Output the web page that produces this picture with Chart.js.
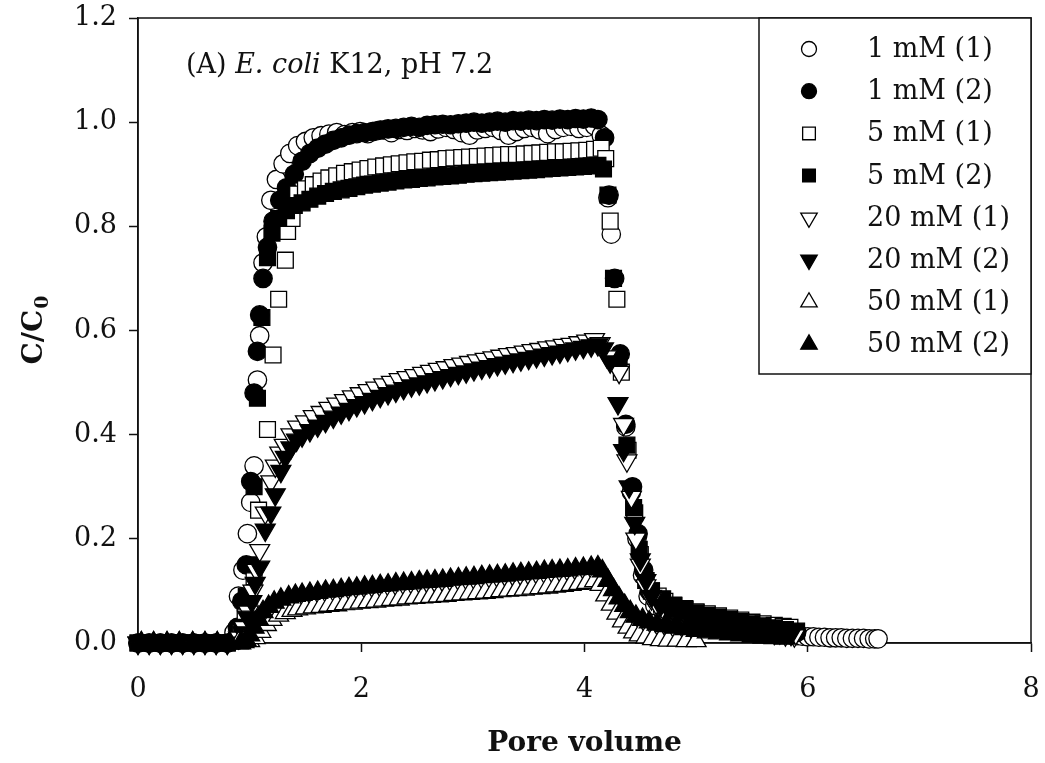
<!DOCTYPE html>
<html>
<head>
<meta charset="utf-8">
<title>Breakthrough curves</title>
<script src="https://cdn.jsdelivr.net/npm/chart.js@4.4.0/dist/chart.umd.min.js"></script>
<style>
  html, body { margin: 0; padding: 0; background: #fff; }
  #wrap { width: 1045px; height: 763px; }
</style>
</head>
<body>
<div id="wrap"><canvas id="btcChart" width="1045" height="763"></canvas></div>
<script>
// shared sampling grids (pore volumes)
const pvStartA = [0.00, 0.10, 0.20, 0.30, 0.40, 0.50, 0.60, 0.70, 0.80];
const pvStartC = [0.03, 0.14, 0.26, 0.37, 0.49, 0.60, 0.71, 0.82];
const pvPlateauA = [1.43, 1.50, 1.57, 1.64, 1.71, 1.78, 1.85, 1.92, 1.99, 2.06,
  2.13, 2.20, 2.27, 2.34, 2.41, 2.48, 2.55, 2.62, 2.69, 2.76,
  2.83, 2.90, 2.97, 3.04, 3.11, 3.18, 3.25, 3.32, 3.39, 3.46,
  3.53, 3.60, 3.67, 3.74, 3.81, 3.88, 3.95, 4.02, 4.09];
const pvPlateauB = [1.47, 1.54, 1.61, 1.68, 1.75, 1.82, 1.89, 1.96, 2.03, 2.10,
  2.17, 2.24, 2.31, 2.38, 2.45, 2.52, 2.59, 2.66, 2.73, 2.80,
  2.87, 2.94, 3.01, 3.08, 3.15, 3.22, 3.29, 3.36, 3.43, 3.50,
  3.57, 3.64, 3.71, 3.78, 3.85, 3.92, 3.99, 4.06, 4.12];

// 1 mM (1)
const pv1a = [...pvStartA,
  0.86, 0.90, 0.94, 0.98, 1.01, 1.04, 1.07, 1.09, 1.12, 1.15, 1.19, 1.24, 1.30, 1.36,
  ...pvPlateauA,
  4.15, 4.21, 4.24, 4.37, 4.42, 4.47, 4.52, 4.57, 4.63, 4.70, 4.78, 4.86, 4.95, 5.04, 5.13, 5.22,
  5.31, 5.40, 5.49, 5.58, 5.67, 5.76, 5.84,
  5.90, 5.95, 6.00, 6.05, 6.10, 6.15, 6.20, 6.25, 6.30, 6.35, 6.40, 6.45, 6.50, 6.55, 6.60, 6.63];
const c1a = [0, 0, 0, 0, 0, 0, 0, 0, 0,
  0.02, 0.09, 0.14, 0.21, 0.27, 0.34, 0.505, 0.59, 0.73, 0.78, 0.85, 0.89, 0.92, 0.94,
  0.955, 0.963, 0.97, 0.974, 0.977, 0.98, 0.976, 0.98, 0.982, 0.978,
  0.983, 0.985, 0.98, 0.986, 0.984, 0.988, 0.985, 0.982, 0.987, 0.99,
  0.986, 0.98, 0.975, 0.985, 0.988, 0.99, 0.984, 0.975, 0.982, 0.988,
  0.99, 0.985, 0.978, 0.986, 0.99, 0.992, 0.988, 0.99, 0.993,
  0.975, 0.855, 0.785, 0.415, 0.29, 0.2, 0.13, 0.09, 0.072, 0.062, 0.055, 0.05, 0.046, 0.042, 0.039, 0.036,
  0.033, 0.03, 0.027, 0.024, 0.021, 0.018, 0.016,
  0.014, 0.013, 0.012, 0.012, 0.011, 0.011, 0.01, 0.01, 0.01, 0.009, 0.009, 0.009, 0.009, 0.008, 0.008, 0.008];

// 1 mM (2)
const pv1b = [...pvStartA,
  0.89, 0.93, 0.97, 1.01, 1.04, 1.07, 1.09, 1.12, 1.16, 1.21, 1.27, 1.33, 1.40,
  ...pvPlateauB,
  4.18, 4.22, 4.27, 4.32, 4.37, 4.43, 4.48, 4.53, 4.58, 4.64, 4.70, 4.78, 4.86, 4.94, 5.02, 5.10,
  5.18, 5.26, 5.34, 5.42, 5.50, 5.58, 5.66, 5.74, 5.82, 5.90];
const c1b = [0, 0, 0, 0, 0, 0, 0, 0, 0,
  0.03, 0.08, 0.15, 0.31, 0.48, 0.56, 0.63, 0.70, 0.76, 0.81, 0.85, 0.874, 0.9,
  0.925, 0.94, 0.95, 0.958, 0.965, 0.97, 0.975, 0.978, 0.98, 0.982,
  0.985, 0.987, 0.988, 0.99, 0.992, 0.99, 0.994, 0.995, 0.996, 0.995,
  0.997, 0.998, 1.0, 0.998, 1.0, 1.002, 1.0, 1.003, 1.002, 1.004,
  1.003, 1.005, 1.004, 1.006, 1.005, 1.007, 1.006, 1.008, 1.005,
  0.97, 0.86, 0.70, 0.555, 0.42, 0.30, 0.21, 0.14, 0.10, 0.082, 0.07, 0.06, 0.053, 0.048, 0.044, 0.041,
  0.038, 0.035, 0.033, 0.031, 0.029, 0.027, 0.025, 0.023, 0.021, 0.02];

// 5 mM (1)
const pv5a = [...pvStartA,
  0.92, 0.96, 1.00, 1.04, 1.08, 1.16, 1.21, 1.26, 1.32, 1.34, 1.38,
  ...pvPlateauA,
  4.15, 4.19, 4.23, 4.29, 4.33, 4.39, 4.45, 4.50, 4.55, 4.60, 4.66, 4.72, 4.80, 4.90, 5.00, 5.10,
  5.20, 5.30, 5.40, 5.50, 5.60, 5.70, 5.78, 5.84];
const c5a = [0, 0, 0, 0, 0, 0, 0, 0, 0,
  0.02, 0.05, 0.09, 0.127, 0.255, 0.41, 0.553, 0.66, 0.735, 0.79, 0.815,
  0.862, 0.872, 0.88, 0.887, 0.893, 0.897, 0.902, 0.905, 0.908, 0.911,
  0.914, 0.916, 0.918, 0.92, 0.922, 0.924, 0.925, 0.927, 0.928, 0.93,
  0.931, 0.932, 0.933, 0.934, 0.935, 0.936, 0.937, 0.938, 0.938, 0.939,
  0.94, 0.941, 0.942, 0.943, 0.943, 0.944, 0.945, 0.946, 0.948,
  0.95, 0.93, 0.81, 0.66, 0.52, 0.37, 0.25, 0.17, 0.12, 0.10, 0.09, 0.08, 0.073, 0.066, 0.06, 0.056,
  0.052, 0.048, 0.044, 0.04, 0.037, 0.034, 0.032, 0.03];

// 5 mM (2)
const pv5b = [...pvStartA,
  0.93, 0.97, 1.01, 1.04, 1.07, 1.11, 1.16, 1.20, 1.26, 1.33, 1.40,
  ...pvPlateauB,
  4.17, 4.21, 4.26, 4.31, 4.38, 4.44, 4.49, 4.55, 4.60, 4.70, 4.80, 4.90, 5.00, 5.10, 5.20, 5.30,
  5.40, 5.50, 5.60, 5.70, 5.80, 5.90];
const c5b = [0, 0, 0, 0, 0, 0, 0, 0, 0,
  0.03, 0.09, 0.15, 0.30, 0.47, 0.625, 0.74, 0.787, 0.815, 0.83, 0.84,
  0.845, 0.852, 0.858, 0.863, 0.867, 0.87, 0.873, 0.876, 0.879, 0.881,
  0.883, 0.885, 0.887, 0.889, 0.89, 0.892, 0.893, 0.895, 0.896, 0.897,
  0.898, 0.9, 0.901, 0.902, 0.903, 0.904, 0.905, 0.906, 0.907, 0.908,
  0.909, 0.91, 0.911, 0.912, 0.913, 0.914, 0.915, 0.916, 0.917,
  0.91, 0.86, 0.70, 0.54, 0.38, 0.26, 0.18, 0.12, 0.1, 0.085, 0.072, 0.064, 0.058, 0.053, 0.049, 0.045,
  0.041, 0.037, 0.033, 0.029, 0.026, 0.023];

// 20 mM (1)
const pv20a = [...pvStartA,
  0.90, 0.95, 0.99, 1.03, 1.06, 1.09, 1.14, 1.19, 1.23, 1.27, 1.31, 1.37,
  ...pvPlateauA,
  4.14, 4.20, 4.31, 4.35, 4.38, 4.42, 4.46, 4.50, 4.55, 4.60, 4.66, 4.72, 4.80, 4.90, 5.00, 5.10,
  5.20, 5.30, 5.40, 5.50, 5.60, 5.70, 5.80, 5.88];
const c20a = [0, 0, 0, 0, 0, 0, 0, 0, 0,
  0.01, 0.03, 0.06, 0.1, 0.14, 0.178, 0.25, 0.31, 0.34, 0.365, 0.38, 0.40,
  0.415, 0.425, 0.435, 0.443, 0.451, 0.459, 0.466, 0.473, 0.479, 0.485,
  0.49, 0.496, 0.501, 0.506, 0.51, 0.514, 0.518, 0.522, 0.526, 0.529,
  0.533, 0.536, 0.539, 0.542, 0.545, 0.548, 0.551, 0.554, 0.556, 0.559,
  0.562, 0.564, 0.567, 0.569, 0.572, 0.574, 0.577, 0.58, 0.583,
  0.575, 0.55, 0.52, 0.42, 0.35, 0.28, 0.2, 0.15, 0.11, 0.085, 0.07, 0.06, 0.052, 0.046, 0.041, 0.037,
  0.034, 0.031, 0.028, 0.025, 0.022, 0.019, 0.016, 0.014];

// 20 mM (2)
const pv20b = [...pvStartA,
  0.94, 0.98, 1.02, 1.05, 1.09, 1.14, 1.19, 1.23, 1.28, 1.32, 1.37, 1.42,
  ...pvPlateauB,
  4.17, 4.23, 4.30, 4.35, 4.40, 4.45, 4.50, 4.55, 4.60, 4.68, 4.76, 4.85, 4.95, 5.05, 5.15, 5.25,
  5.35, 5.45, 5.55, 5.65, 5.75, 5.85];
const c20b = [0, 0, 0, 0, 0, 0, 0, 0, 0,
  0.02, 0.05, 0.08, 0.115, 0.146, 0.217, 0.25, 0.285, 0.33, 0.357, 0.375, 0.39,
  0.398, 0.408, 0.417, 0.426, 0.434, 0.442, 0.449, 0.456, 0.462, 0.468,
  0.474, 0.479, 0.484, 0.489, 0.494, 0.498, 0.502, 0.506, 0.51, 0.514,
  0.518, 0.521, 0.525, 0.528, 0.531, 0.535, 0.538, 0.541, 0.544, 0.547,
  0.55, 0.553, 0.556, 0.559, 0.562, 0.565, 0.568, 0.571, 0.573,
  0.565, 0.54, 0.46, 0.37, 0.30, 0.23, 0.16, 0.12, 0.09, 0.072, 0.062, 0.055, 0.049, 0.044, 0.04, 0.036,
  0.032, 0.029, 0.026, 0.023, 0.02, 0.017];

// 50 mM (1)
const pv50a = [...pvStartC,
  0.90, 0.95, 1.00, 1.05, 1.10, 1.15, 1.20, 1.26, 1.32, 1.38,
  ...pvPlateauA,
  4.14, 4.19, 4.24, 4.29, 4.34, 4.39, 4.44, 4.49, 4.55, 4.61, 4.68, 4.75, 4.83, 4.91, 5.00];
const c50a = [0, 0, 0, 0, 0, 0, 0, 0,
  0, 0.002, 0.004, 0.01, 0.022, 0.035, 0.045, 0.053, 0.058, 0.062,
  0.065, 0.067, 0.069, 0.07, 0.072, 0.073, 0.075, 0.076, 0.078, 0.079,
  0.08, 0.082, 0.083, 0.084, 0.086, 0.087, 0.088, 0.089, 0.09, 0.091,
  0.093, 0.094, 0.095, 0.096, 0.097, 0.098, 0.1, 0.101, 0.102, 0.103,
  0.105, 0.106, 0.107, 0.109, 0.11, 0.112, 0.114, 0.116, 0.119,
  0.112, 0.092, 0.074, 0.057, 0.042, 0.03, 0.021, 0.015, 0.011, 0.008, 0.006, 0.005, 0.005, 0.004, 0.004];

// 50 mM (2)
const pv50b = [...pvStartC,
  0.92, 0.97, 1.00, 1.04, 1.08, 1.12, 1.17, 1.22, 1.28, 1.35, 1.41,
  ...pvPlateauB,
  4.16, 4.21, 4.26, 4.31, 4.36, 4.41, 4.46, 4.52, 4.58, 4.65, 4.72, 4.80, 4.90, 5.00, 5.10, 5.20,
  5.30, 5.40, 5.50, 5.60, 5.70, 5.80];
const c50b = [0, 0, 0, 0, 0, 0, 0, 0,
  0, 0.005, 0.015, 0.03, 0.045, 0.06, 0.07, 0.078, 0.084, 0.088, 0.091,
  0.093, 0.095, 0.097, 0.099, 0.1, 0.102, 0.104, 0.105, 0.107, 0.108,
  0.11, 0.111, 0.113, 0.114, 0.115, 0.117, 0.118, 0.119, 0.12, 0.122,
  0.123, 0.124, 0.125, 0.127, 0.128, 0.129, 0.13, 0.132, 0.133, 0.134,
  0.135, 0.137, 0.138, 0.139, 0.14, 0.142, 0.143, 0.145, 0.146,
  0.138, 0.12, 0.102, 0.086, 0.072, 0.06, 0.051, 0.045, 0.04, 0.036, 0.033, 0.03, 0.027, 0.024, 0.021, 0.019,
  0.017, 0.015, 0.013, 0.011, 0.01, 0.009];

const xTicks = [0, 2, 4, 6, 8];
const yTicks = [0, 0.2, 0.4, 0.6, 0.8, 1.0, 1.2];

const series = [
  { label: '1 mM (1)', pv: pv1a, c: c1a, style: 'circle', rot: 0, filled: false },
  { label: '1 mM (2)', pv: pv1b, c: c1b, style: 'circle', rot: 0, filled: true },
  { label: '5 mM (1)', pv: pv5a, c: c5a, style: 'rect', rot: 0, filled: false },
  { label: '5 mM (2)', pv: pv5b, c: c5b, style: 'rect', rot: 0, filled: true },
  { label: '20 mM (1)', pv: pv20a, c: c20a, style: 'triangle', rot: 180, filled: false },
  { label: '20 mM (2)', pv: pv20b, c: c20b, style: 'triangle', rot: 180, filled: true },
  { label: '50 mM (1)', pv: pv50a, c: c50a, style: 'triangle', rot: 0, filled: false },
  { label: '50 mM (2)', pv: pv50b, c: c50b, style: 'triangle', rot: 0, filled: true },
];

const SERIF = '"DejaVu Serif", "Liberation Serif", serif';
const INK = '#111';
const markerRadius = { circle: 9.2, rect: 11.2, triangle: 11.5 };
const legendRadius = { circle: 7.5, rect: 9, triangle: 9.5 };

const datasets = series.map((s, i) => ({
  label: s.label,
  data: s.pv.map((x, k) => ({ x: x, y: s.c[k] })),
  showLine: false,
  clip: false,
  order: series.length - i, // later series sit on top
  pointStyle: s.style,
  pointRotation: s.rot,
  pointRadius: markerRadius[s.style],
  pointBackgroundColor: s.filled ? '#000' : '#fff',
  pointBorderColor: '#000',
  pointBorderWidth: 1.3,
}));

// frame, legend box, panel label and y-axis title
const decorations = {
  id: 'decorations',
  beforeDatasetsDraw(chart) {
    const { ctx, chartArea: a } = chart;
    ctx.save();
    ctx.strokeStyle = INK;
    ctx.lineWidth = 1.5;
    ctx.strokeRect(a.left, a.top, a.right - a.left, a.bottom - a.top);
    ctx.restore();
  },
  afterDraw(chart) {
    const { ctx, chartArea: a } = chart;
    ctx.save();

    // legend
    const boxW = 272, boxH = 356;
    const bx = a.right - boxW, by = a.top;
    ctx.fillStyle = '#fff';
    ctx.fillRect(bx, by, boxW, boxH);
    ctx.strokeStyle = INK;
    ctx.lineWidth = 1.5;
    ctx.strokeRect(bx, by, boxW, boxH);
    ctx.font = '27px ' + SERIF;
    ctx.textBaseline = 'middle';
    ctx.textAlign = 'left';
    series.forEach((s, i) => {
      const y = by + 31 + i * 42.2;
      ctx.fillStyle = s.filled ? '#000' : '#fff';
      ctx.strokeStyle = '#000';
      ctx.lineWidth = 1.3;
      Chart.helpers.drawPoint(ctx, {
        pointStyle: s.style, rotation: s.rot, radius: legendRadius[s.style], borderWidth: 1.3
      }, bx + 50, y);
      ctx.fillStyle = INK;
      ctx.fillText(s.label, bx + 108, y + 1);
    });

    // panel label
    let tx = a.left + 48;
    const ty = a.top + 55;
    ctx.textBaseline = 'alphabetic';
    ctx.fillStyle = INK;
    const parts = [['(A) ', ''], ['E. coli', 'italic '], [' K12, pH 7.2', '']];
    parts.forEach(([t, st]) => {
      ctx.font = st + '27px ' + SERIF;
      ctx.fillText(t, tx, ty);
      tx += ctx.measureText(t).width;
    });

    // y-axis title C/C0 with subscript
    const midY = (a.top + a.bottom) / 2;
    ctx.translate(42, midY);
    ctx.rotate(-Math.PI / 2);
    const mainFont = 'bold 28px ' + SERIF;
    const subFont = 'bold 19px ' + SERIF;
    ctx.font = mainFont;
    const w1 = ctx.measureText('C/C').width;
    ctx.font = subFont;
    const w2 = ctx.measureText('0').width;
    const x0 = -(w1 + w2) / 2;
    ctx.font = mainFont;
    ctx.fillText('C/C', x0, 0);
    ctx.font = subFont;
    ctx.fillText('0', x0 + w1 + 1, 6);

    ctx.restore();
  }
};

new Chart(document.getElementById('btcChart'), {
  type: 'scatter',
  data: { datasets },
  options: {
    responsive: false,
    animation: false,
    events: [],
    layout: { padding: { top: 18, right: 14, left: 0, bottom: 0 } },
    plugins: { legend: { display: false }, tooltip: { enabled: false } },
    scales: {
      x: {
        type: 'linear', min: 0, max: 8,
        afterBuildTicks: (scale) => { scale.ticks = xTicks.map(v => ({ value: v })); },
        afterFit: (scale) => {
          scale.height = 120;
          scale.paddingLeft = 0;
          scale.paddingRight = 0;
        },
        ticks: { color: INK, font: { family: SERIF, size: 27 }, padding: 22, maxRotation: 0 },
        grid: { drawOnChartArea: false, drawTicks: true, tickLength: 9, tickColor: INK, tickWidth: 1.5 },
        border: { color: INK, width: 1.5 },
        title: {
          display: true, text: 'Pore volume', color: INK,
          font: { family: SERIF, size: 28, weight: 'bold' }, padding: { top: 0, bottom: 2 }
        }
      },
      y: {
        type: 'linear', min: 0, max: 1.2,
        afterBuildTicks: (scale) => { scale.ticks = yTicks.map(v => ({ value: v })); },
        afterFit: (scale) => {
          scale.width = 138;
          scale.paddingTop = 0;
          scale.paddingBottom = 0;
        },
        ticks: { color: INK, font: { family: SERIF, size: 27 }, padding: 12, callback: v => Number(v).toFixed(1) },
        grid: { drawOnChartArea: false, drawTicks: true, tickLength: 9, tickColor: INK, tickWidth: 1.5 },
        border: { color: INK, width: 1.5 }
      }
    }
  },
  plugins: [decorations]
});
</script>
</body>
</html>
